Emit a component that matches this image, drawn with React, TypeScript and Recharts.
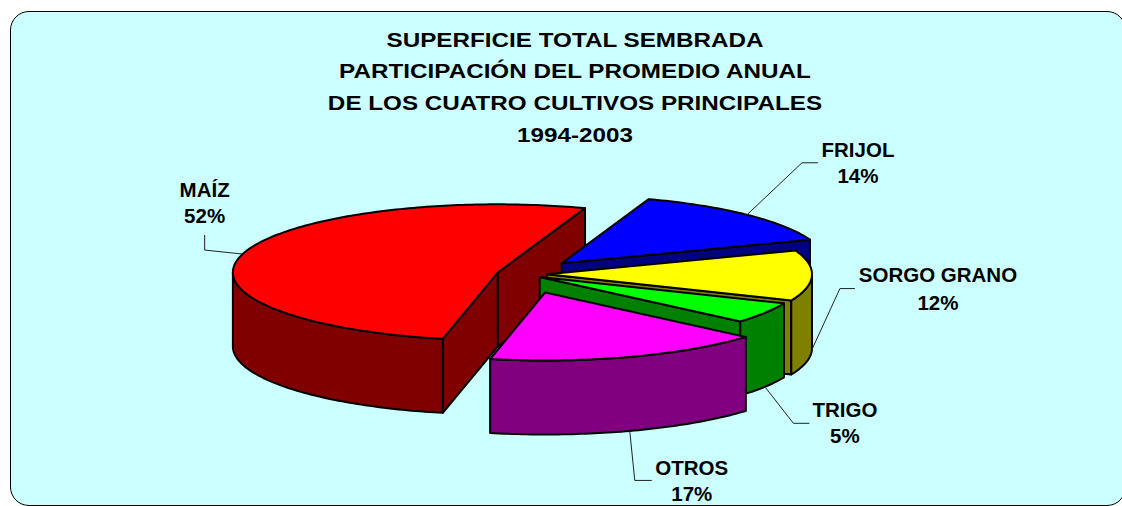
import { PieChart, Pie } from "recharts"

// promedio anual 1994-2003, % de la superficie sembrada
const categories = ["MAÍZ", "FRIJOL", "SORGO GRANO", "TRIGO", "OTROS"]
const shares = [52, 14, 12, 5, 17]

const titleLines = [
  "SUPERFICIE TOTAL SEMBRADA",
  "PARTICIPACIÓN DEL PROMEDIO ANUAL",
  "DE LOS CUATRO CULTIVOS PRINCIPALES",
  "1994-2003",
]

const data = categories.map((name, i) => ({ name, value: shares[i] }))

const topColors: Record<string, string> = {
  "MAÍZ": "#FF0000",
  FRIJOL: "#0000FF",
  "SORGO GRANO": "#FFFF00",
  TRIGO: "#00FF00",
  OTROS: "#FF00FF",
}
const sideColors: Record<string, string> = {
  "MAÍZ": "#800000",
  FRIJOL: "#000080",
  "SORGO GRANO": "#808000",
  TRIGO: "#008000",
  OTROS: "#800080",
}
// how far each slice is pulled out (px along its mid angle)
const explode: Record<string, number> = {
  "MAÍZ": 24,
  FRIJOL: 58,
  "SORGO GRANO": 26,
  TRIGO: 22,
  OTROS: 76,
}
// label placement relative to the leader anchor on the slice
const labelPos: Record<string, { tx: number; b1: number; b2: number; ex: number; ey: number; dir: number }> = {
  "MAÍZ": { tx: -38, b1: -57, b2: -31, ex: -38, ey: -4, dir: 0 },
  FRIJOL: { tx: 111, b1: -58, b2: -31.5, ex: 55, ey: -52, dir: 16 },
  "SORGO GRANO": { tx: 126, b1: -68, b2: -40, ex: 28, ey: -61, dir: 15 },
  TRIGO: { tx: 80, b1: 30, b2: 56.5, ex: 28.5, ey: 36.5, dir: 16 },
  OTROS: { tx: 62, b1: 44, b2: 70.5, ex: 5, ey: 49.5, dir: 17 },
}

const TILT = 68 / 265
const DEPTH = 74
const RAD = Math.PI / 180
const FONT = '"Liberation Sans", Arial, sans-serif'

type Pt = [number, number]

function apexOf(cx: number, cy: number, mid: number, name: string): Pt {
  const d = explode[name] ?? 0
  return [cx + d * Math.cos(mid * RAD), cy - d * TILT * Math.sin(mid * RAD)]
}

function Slice3D(props: any) {
  const { cx, cy, outerRadius: r, startAngle, endAngle, name } = props
  const mid = (startAngle + endAngle) / 2
  const [ax, ay] = apexOf(cx, cy, mid, name)
  const lo = Math.min(startAngle, endAngle)
  const hi = Math.max(startAngle, endAngle)
  const rim = (deg: number, dy = 0): Pt => [
    ax + r * Math.cos(deg * RAD),
    ay - r * TILT * Math.sin(deg * RAD) + dy,
  ]
  const arc = (from: number, to: number, dy = 0): Pt[] => {
    const n = Math.max(2, Math.ceil(Math.abs(to - from)))
    const pts: Pt[] = []
    for (let i = 0; i <= n; i++) pts.push(rim(from + ((to - from) * i) / n, dy))
    return pts
  }
  const path = (pts: Pt[]) =>
    "M" + pts.map((p) => p[0].toFixed(2) + "," + p[1].toFixed(2)).join("L") + "Z"

  const side = sideColors[name]
  const faces: string[] = []
  const radial = (deg: number) => {
    const [rx, ry] = rim(deg)
    return path([[ax, ay], [rx, ry], [rx, ry + DEPTH], [ax, ay + DEPTH]])
  }
  // cut faces turned towards the viewer
  if (Math.cos(hi * RAD) < 0) faces.push(radial(hi))
  if (Math.cos(lo * RAD) > 0) faces.push(radial(lo))
  // front part of the outer wall
  for (let k = -2; k <= 1; k++) {
    const a = Math.max(lo, 180 + 360 * k)
    const b = Math.min(hi, 360 + 360 * k)
    if (b > a) faces.push(path([...arc(a, b), ...arc(b, a, DEPTH)]))
  }
  const top = path([[ax, ay], ...arc(hi, lo)])

  return (
    <g>
      {faces.map((f, i) => (
        <path key={i} d={f} fill={side} stroke="#000" strokeWidth={2} strokeLinejoin="round" />
      ))}
      <path d={top} fill={topColors[name]} stroke="#000" strokeWidth={2} strokeLinejoin="round" />
    </g>
  )
}

function SliceLabel(props: any) {
  const { cx, cy, outerRadius: r, startAngle, endAngle, name, percent } = props
  const mid = (startAngle + endAngle) / 2
  const [ax, ay] = apexOf(cx, cy, mid, name)
  const sx = ax + r * Math.cos(mid * RAD)
  let sy = ay - r * TILT * Math.sin(mid * RAD)
  if (Math.sin(mid * RAD) < 0) sy += DEPTH
  const p = labelPos[name]
  const ex = sx + p.ex
  const ey = sy + p.ey
  const end = p.dir === 0 ? [ex, ey - 15] : [ex + p.dir, ey]
  return (
    <g>
      <polyline
        points={`${sx},${sy} ${ex},${ey} ${end[0]},${end[1]}`}
        fill="none"
        stroke="#222"
        strokeWidth={1}
      />
      <text x={sx + p.tx} y={sy + p.b1} textAnchor="middle" fontFamily={FONT} fontWeight="bold" fontSize={20.5} fill="#000">
        {name}
      </text>
      <text x={sx + p.tx} y={sy + p.b2} textAnchor="middle" fontFamily={FONT} fontWeight="bold" fontSize={20.5} fill="#000">
        {Math.round(percent * 100)}%
      </text>
    </g>
  )
}

export default function App() {
  return (
    <div style={{ position: "absolute", left: 0, top: 0, width: 1122, height: 506, overflow: "hidden", background: "#fff" }}>
      <div
        style={{
          position: "absolute",
          left: 10,
          top: 11,
          width: 1114,
          height: 493,
          border: "1.5px solid #000",
          borderRadius: 19,
          background: "#CCFFFF",
        }}
      />
      <svg width={1122} height={506} style={{ position: "absolute", left: 0, top: 0 }}>
        {titleLines.map((t, i) => (
          <text
            key={t}
            transform={`translate(575 ${[46.7, 77.7, 110, 141.7][i]}) scale(1.155 1)`}
            textAnchor="middle"
            fontFamily={FONT}
            fontWeight="bold"
            fontSize={21}
            fill="#000"
          >
            {t}
          </text>
        ))}
      </svg>
      <div style={{ position: "absolute", left: 0, top: 0 }}>
        <PieChart width={1122} height={506} margin={{ top: 0, right: 0, bottom: 0, left: 0 }}>
          <Pie
            data={data}
            dataKey="value"
            nameKey="name"
            cx={521}
            cy={274}
            outerRadius={265}
            startAngle={258}
            endAngle={-102}
            stroke="none"
            isAnimationActive={false}
            shape={Slice3D}
            activeShape={Slice3D}
            inactiveShape={Slice3D}
            label={SliceLabel}
            labelLine={false}
          />
        </PieChart>
      </div>
    </div>
  )
}
